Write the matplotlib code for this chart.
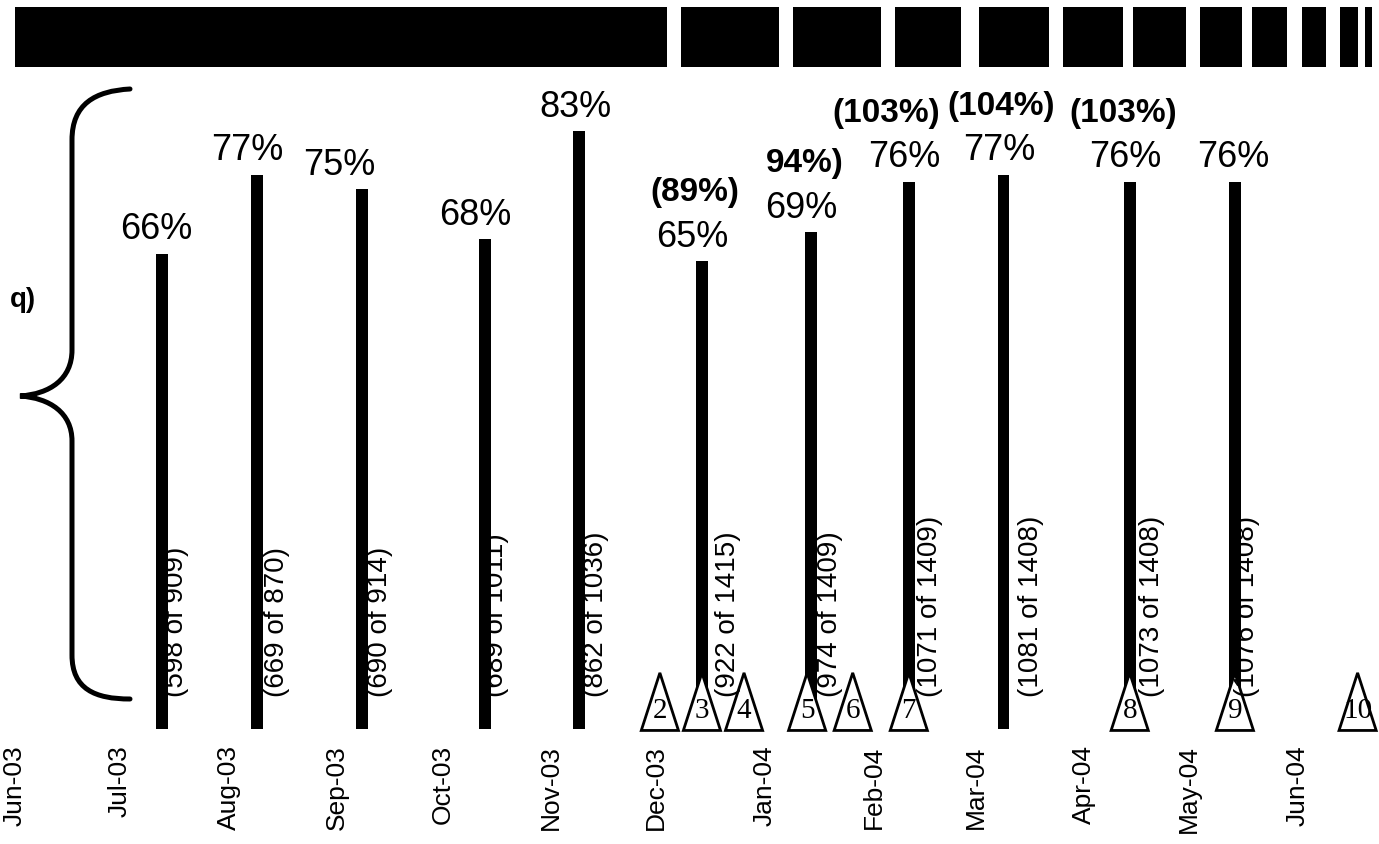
import numpy as np
import pandas as pd
import matplotlib.pyplot as plt
from matplotlib.patches import Polygon, PathPatch
from matplotlib.path import Path

plt.rcParams['font.family'] = ['Liberation Sans', 'DejaVu Sans']

origin = pd.Timestamp('2003-07-01')


def to_days(dates):
    return np.array([(pd.Timestamp(d) - origin).days for d in dates], dtype=float)


# survey rounds: date, response rate and counts
survey_dates = ['2003-07-13', '2003-08-09', '2003-09-08', '2003-10-13', '2003-11-09',
                '2003-12-14', '2004-01-14', '2004-02-11', '2004-03-09', '2004-04-14',
                '2004-05-14']
response_pct = [66, 77, 75, 68, 83, 65, 69, 76, 77, 76, 76]
extra_labels = ['', '', '', '', '', '(89%)', '94%)', '(103%)', '(104%)', '(103%)', '']
count_labels = ['(598 of 909)', '(669 of 870)', '(690 of 914)', '(689 of 1011)',
                '(862 of 1036)', '(922 of 1415)', '(974 of 1409)', '(1071 of 1409)',
                '(1081 of 1408)', '(1073 of 1408)', '(1076 of 1408)']

# numbered triangle markers
marker_dates = ['2003-12-02', '2003-12-14', '2003-12-26', '2004-01-13', '2004-01-26',
                '2004-02-11', '2004-04-14', '2004-05-14', '2004-06-18']
marker_nums = ['2', '3', '4', '5', '6', '7', '8', '9', '10']

# black period blocks along the top
period_starts = ['2003-06-01', '2003-12-08', '2004-01-09', '2004-02-07', '2004-03-02',
                 '2004-03-26', '2004-04-15', '2004-05-04', '2004-05-19', '2004-06-02',
                 '2004-06-13', '2004-06-20']
period_ends = ['2003-12-04', '2004-01-05', '2004-02-03', '2004-02-26', '2004-03-22',
               '2004-04-12', '2004-04-30', '2004-05-16', '2004-05-29', '2004-06-09',
               '2004-06-18', '2004-06-22']

month_ticks = pd.date_range('2003-06-01', '2004-06-01', freq='MS')

# label nudges (points), as laid out in the original
pct_dx = [-4, -6.5, -16, -6.5, -3, -7, -6.5, -3, -3, -3.5, -1.5]
extra_dx = [0, 0, 0, 0, 0, -5, -4, -16.5, -1.5, -5, 0]
count_dx = [10, 15, 13, 8.5, 12, 19, 14, 15, 20, 16, 9]

W, H = 1379, 845
fig = plt.figure(figsize=(W / 100, H / 100), dpi=100)
ax = fig.add_axes([0, (H - 737) / H, 1, 737 / H])
ax.set_xlim(-34.2, 359.1)
ax.set_ylim(-0.97, 101.39)

x_bar = to_days(survey_dates)
ax.bar(x_bar, response_pct, width=3.4, color='black', zorder=2)

# top blocks
starts = to_days(period_starts)
ends = to_days(period_ends)
ax.broken_barh(list(zip(starts, ends - starts)), (91.94, 8.34), facecolors='black')

# percentage labels
for x, p, extra, dx, edx in zip(x_bar, response_pct, extra_labels, pct_dx, extra_dx):
    ax.annotate(f'{p}%', (x, p), xytext=(dx, 18), textcoords='offset points',
                ha='center', va='center', fontsize=26)
    if extra:
        ax.annotate(extra, (x, p), xytext=(edx, 50), textcoords='offset points',
                    ha='center', va='center', fontsize=24, fontweight='bold')

# rotated count labels
for x, lab, dx in zip(x_bar, count_labels, count_dx):
    ax.annotate(lab, (x, 4.6), xytext=(dx, 0), textcoords='offset points',
                rotation=90, ha='center', va='bottom', fontsize=20, zorder=5)

# triangles
hw, th = 5.3, 7.8
for x, n in zip(to_days(marker_dates), marker_nums):
    tri = Polygon([(x - hw, -0.2), (x + hw, -0.2), (x, th)], closed=True,
                  facecolor='white', edgecolor='black', linewidth=2, zorder=3)
    ax.add_patch(tri)
    ax.text(x, 2.6, n, ha='center', va='center', fontsize=21,
            family='Liberation Serif', zorder=4)

ax.set_xticks(to_days(month_ticks))
ax.set_xticklabels([d.strftime('%b-%y') for d in month_ticks], rotation=90, fontsize=19)
ax.tick_params(axis='x', length=0, pad=6)
ax.set_yticks([])
for s in ax.spines.values():
    s.set_visible(False)


# curly brace on the left (pixel coordinates)
def fp(x, y):
    return (x / W, 1 - y / H)


verts = [fp(130, 90), fp(95, 92), fp(72, 105), fp(72, 141),
         fp(72, 351),
         fp(72, 380), fp(50, 395), fp(20, 397),
         fp(50, 399), fp(72, 414), fp(72, 442),
         fp(72, 656),
         fp(72, 690), fp(95, 700), fp(130, 700)]
codes = [Path.MOVETO, Path.CURVE4, Path.CURVE4, Path.CURVE4,
         Path.LINETO,
         Path.CURVE4, Path.CURVE4, Path.CURVE4,
         Path.CURVE4, Path.CURVE4, Path.CURVE4,
         Path.LINETO,
         Path.CURVE4, Path.CURVE4, Path.CURVE4]
fig.patches.append(PathPatch(Path(verts, codes), transform=fig.transFigure,
                             facecolor='none', edgecolor='black', linewidth=3.6,
                             capstyle='round'))
fig.text(36 / W, 1 - 300 / H, 'q)', ha='right', va='center', fontsize=20,
         fontweight='bold')

plt.savefig('out.png', dpi=100)
